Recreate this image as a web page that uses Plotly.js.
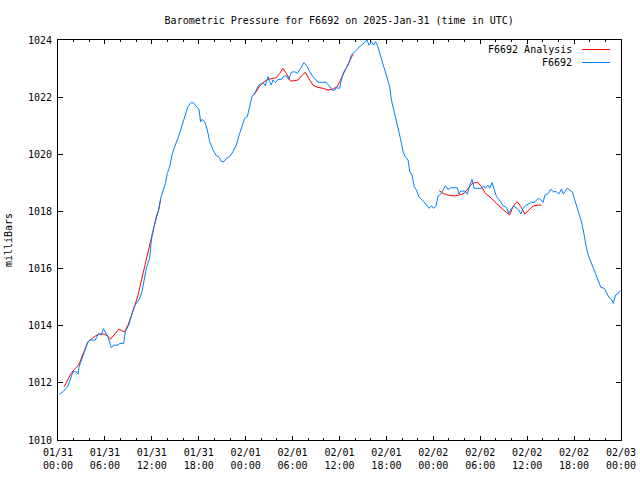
<!DOCTYPE html>
<html>
<head>
<meta charset="utf-8">
<script src="https://cdn.plot.ly/plotly-3.0.1.min.js"></script>
<style>html,body{margin:0;padding:0;background:#fff;}#chart{width:640px;height:480px;}</style>
</head>
<body>
<div id="chart"></div>
<script>
// hours after 2025-01-31 00:00 UTC
var obsHours = [0.21,0.64,1.28,1.62,1.92,2.34,2.56,2.69,2.98,3.41,3.84,4.18,4.77,5.20,5.54,5.80,6.05,6.39,6.82,7.16,7.67,7.89,8.40,8.61,9.04,9.38,9.80,10.14,10.44,10.74,11.00,11.30,11.72,11.94,12.28,12.57,12.87,13.13,13.43,13.73,13.98,14.28,14.58,14.92,15.35,15.77,16.20,16.62,17.05,17.39,17.69,18.03,18.24,18.41,18.76,19.10,19.40,19.82,20.25,20.55,20.89,21.23,21.53,21.95,22.38,22.80,23.23,23.53,23.87,24.21,24.51,24.81,25.15,25.66,26.00,26.34,26.51,26.85,27.07,27.28,27.49,27.79,28.13,28.56,28.90,29.20,29.50,29.84,30.27,30.61,31.03,31.46,31.89,32.18,32.61,33.25,34.31,34.74,35.17,35.38,35.59,36.02,36.23,36.57,37.09,37.52,37.94,38.37,38.79,39.22,39.52,39.77,40.07,40.37,40.59,40.84,41.14,41.57,41.87,42.12,42.42,42.64,42.85,43.15,43.49,43.79,44.13,44.35,44.77,44.98,45.28,45.54,45.84,46.14,46.48,46.82,47.12,47.46,47.76,48.01,48.31,48.61,48.95,49.25,49.55,49.89,50.23,50.74,51.08,51.25,51.51,52.02,52.36,52.66,52.96,53.22,53.73,54.15,54.45,54.66,55.00,55.22,55.52,55.77,56.07,56.37,56.62,56.92,57.35,57.65,57.99,58.29,58.63,58.93,59.19,59.49,59.78,60.12,60.55,60.89,61.19,61.49,61.75,62.05,62.26,62.69,63.03,63.33,63.75,64.05,64.39,64.61,64.82,65.12,65.46,65.76,66.02,66.31,66.61,66.95,67.17,67.38,67.59,67.81,68.15,68.45,68.75,69.09,69.43,69.86,70.16,70.46,70.80,71.01,71.31,71.57,71.87];
var obsPressure = [1011.60,1011.69,1011.89,1012.16,1012.39,1012.39,1012.30,1012.56,1012.80,1013.15,1013.44,1013.50,1013.50,1013.73,1013.67,1013.90,1013.79,1013.61,1013.23,1013.32,1013.32,1013.38,1013.38,1013.79,1014.02,1014.37,1014.72,1014.81,1014.96,1015.19,1015.60,1016.01,1016.36,1017.00,1017.47,1017.76,1018.05,1018.46,1018.75,1018.98,1019.33,1019.57,1019.97,1020.27,1020.56,1020.94,1021.37,1021.67,1021.82,1021.78,1021.67,1021.58,1021.14,1021.22,1021.14,1020.85,1020.44,1020.15,1019.95,1019.92,1019.74,1019.74,1019.86,1019.92,1020.09,1020.32,1020.73,1020.97,1021.26,1021.32,1021.67,1022.02,1022.13,1022.42,1022.48,1022.48,1022.40,1022.72,1022.54,1022.42,1022.60,1022.51,1022.62,1022.62,1022.74,1022.74,1022.62,1022.87,1022.89,1022.83,1023.01,1023.21,1023.07,1022.89,1022.72,1022.52,1022.52,1022.37,1022.23,1022.25,1022.33,1022.31,1022.60,1022.89,1023.12,1023.47,1023.59,1023.71,1023.82,1023.91,1024.00,1023.82,1023.94,1023.82,1023.94,1023.82,1023.53,1023.18,1022.89,1022.60,1022.37,1021.90,1021.67,1021.32,1020.97,1020.56,1020.09,1019.94,1019.80,1019.39,1019.27,1018.87,1018.75,1018.52,1018.42,1018.34,1018.22,1018.11,1018.20,1018.11,1018.17,1018.54,1018.61,1018.75,1018.90,1018.77,1018.83,1018.83,1018.83,1018.61,1018.71,1018.71,1018.60,1018.92,1019.12,1018.81,1018.81,1018.81,1018.89,1018.81,1018.92,1018.81,1019.01,1018.75,1018.52,1018.42,1018.34,1018.19,1018.14,1017.93,1018.11,1018.19,1018.11,1018.05,1017.91,1018.11,1018.20,1018.25,1018.32,1018.32,1018.40,1018.46,1018.40,1018.32,1018.57,1018.63,1018.78,1018.69,1018.69,1018.61,1018.78,1018.61,1018.69,1018.81,1018.75,1018.69,1018.46,1018.22,1017.93,1017.64,1017.35,1017.00,1016.71,1016.47,1016.24,1016.01,1015.77,1015.60,1015.34,1015.31,1015.13,1014.99,1014.92,1014.78,1015.07,1015.11,1015.23];

// analysis: null separates the three segments
var anaHours = [0.77,1.19,1.71,2.22,2.64,2.98,3.41,3.84,4.26,4.77,5.33,5.88,6.31,6.73,7.25,7.80,8.18,8.53,8.95,9.38,9.80,10.23,10.66,11.08,11.51,11.94,12.28,12.57,12.87,13.13,
  13.2,
  25.02,25.36,25.79,26.21,26.85,27.49,27.92,28.35,28.77,29.20,29.75,30.27,30.69,31.12,31.63,32.05,32.61,33.25,33.89,34.53,35.17,35.72,36.02,36.32,36.50,37.09,37.73,
  37.8,
  48.73,49.25,49.89,50.66,51.25,51.94,52.45,52.96,53.65,54.15,54.66,55.43,56.07,56.71,57.35,57.77,58.20,58.71,59.19,59.70,60.21,60.76,61.40,61.83];
var anaPressure = [1011.86,1012.10,1012.35,1012.51,1012.62,1012.86,1013.15,1013.44,1013.53,1013.64,1013.71,1013.71,1013.64,1013.53,1013.71,1013.88,1013.82,1013.79,1014.02,1014.34,1014.67,1015.07,1015.60,1016.07,1016.53,1017.12,1017.47,1017.82,1018.05,1018.42,
  null,
  1022.07,1022.19,1022.39,1022.51,1022.62,1022.66,1022.68,1022.83,1023.01,1022.83,1022.56,1022.58,1022.60,1022.74,1022.87,1022.66,1022.42,1022.34,1022.31,1022.25,1022.28,1022.37,1022.54,1022.74,1022.83,1023.12,1023.51,
  null,
  1018.73,1018.63,1018.57,1018.54,1018.57,1018.63,1018.81,1018.98,1019.02,1018.87,1018.63,1018.46,1018.28,1018.11,1017.96,1017.88,1018.17,1018.34,1018.17,1017.91,1018.05,1018.19,1018.22,1018.22];

var titleText = 'Barometric Pressure for F6692 on 2025-Jan-31 (time in UTC)';
var yTitle = 'milliBars';
var seriesNames = ['F6692 Analysis', 'F6692'];
var seriesColors = ['#ff0000', '#0080ff'];

var t0 = Date.UTC(2025, 0, 31);
function toTime(h) { return t0 + h * 3600000; }

var font = {family: '"DejaVu Sans Mono", "Liberation Mono", monospace', size: 10, color: '#000'};

var traces = [
  {x: anaHours.map(toTime), y: anaPressure, type: 'scatter', mode: 'lines', name: seriesNames[0],
   line: {color: seriesColors[0], width: 1}, connectgaps: false, showlegend: false},
  {x: obsHours.map(toTime), y: obsPressure, type: 'scatter', mode: 'lines', name: seriesNames[1],
   line: {color: seriesColors[1], width: 1}, showlegend: false}
];

var layout = {
  width: 640, height: 480,
  margin: {l: 58, r: 19, t: 40, b: 40, pad: 0},
  paper_bgcolor: '#fff', plot_bgcolor: '#fff',
  font: font,
  title: {text: titleText, font: font, x: 0.53, xanchor: 'center', y: 0.958, yanchor: 'middle'},
  showlegend: false,
  xaxis: {
    type: 'date', range: [toTime(0), toTime(72)], autorange: false,
    dtick: 6 * 3600000, tick0: toTime(0), tickformat: '%m/%d<br>%H:%M',
    ticks: 'inside', ticklen: 4, tickwidth: 1, tickcolor: '#000', ticklabelstandoff: 3,
    minor: {dtick: 2 * 3600000, ticks: 'inside', ticklen: 2, tickwidth: 1, tickcolor: '#000', showgrid: false},
    showline: true, linecolor: '#000', linewidth: 1, mirror: 'allticks',
    showgrid: false, zeroline: false, tickfont: font, automargin: false
  },
  yaxis: {
    range: [1010, 1024], autorange: false, dtick: 2, tick0: 1010,
    ticks: 'inside', ticklen: 5, tickwidth: 1, tickcolor: '#000', ticklabelstandoff: 3,
    showline: true, linecolor: '#000', linewidth: 1, mirror: 'allticks',
    showgrid: false, zeroline: false, tickfont: font, automargin: false,
    title: {text: yTitle, font: font, standoff: 13}
  },
  annotations: [
    {xref: 'paper', yref: 'paper', x: (574 - 58) / 563, y: (440 - 49.5) / 400, xanchor: 'right', yanchor: 'middle',
     text: seriesNames[0], showarrow: false, font: font},
    {xref: 'paper', yref: 'paper', x: (574 - 58) / 563, y: (440 - 62.5) / 400, xanchor: 'right', yanchor: 'middle',
     text: seriesNames[1], showarrow: false, font: font}
  ],
  shapes: [
    {type: 'line', xref: 'paper', yref: 'paper', x0: (582 - 58) / 563, x1: (610 - 58) / 563,
     y0: (440 - 49.5) / 400, y1: (440 - 49.5) / 400, line: {color: seriesColors[0], width: 1}},
    {type: 'line', xref: 'paper', yref: 'paper', x0: (582 - 58) / 563, x1: (610 - 58) / 563,
     y0: (440 - 62.5) / 400, y1: (440 - 62.5) / 400, line: {color: seriesColors[1], width: 1}}
  ]
};

Plotly.newPlot('chart', traces, layout, {staticPlot: true, displayModeBar: false});
</script>
</body>
</html>
